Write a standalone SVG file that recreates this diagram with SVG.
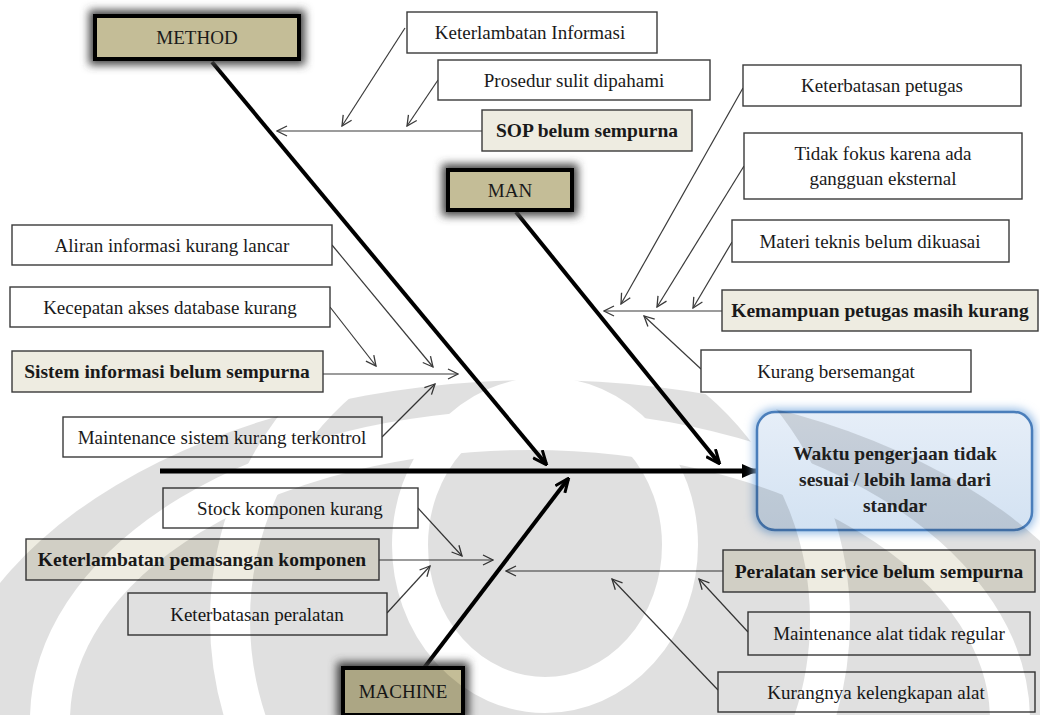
<svg xmlns="http://www.w3.org/2000/svg" width="1040" height="715" viewBox="0 0 1040 715">
  <style>
    .box { fill: #ffffff; stroke: #3a3a3a; stroke-width: 1.4; }
    .main { fill: #eeece1; stroke: #3a3a3a; stroke-width: 1.4; }
    .cat { fill: #c4bd97; stroke: #000000; stroke-width: 4; }
    .catshadow { fill: #444444; filter: url(#soft); }
    .t { font-family: "Liberation Serif", "Times New Roman", serif; font-size: 19px; fill: #1a1a1a; text-anchor: middle; }
    .b { font-family: "Liberation Serif", "Times New Roman", serif; font-size: 19.5px; font-weight: bold; fill: #1a1a1a; text-anchor: middle; }
    .c { font-family: "Liberation Serif", "Times New Roman", serif; font-size: 19px; fill: #1a1a1a; text-anchor: middle; }
    .e { font-family: "Liberation Serif", "Times New Roman", serif; font-size: 19.5px; font-weight: bold; fill: #222222; text-anchor: middle; }
    .thin { fill: none; stroke: #3a3a3a; stroke-width: 1.2; marker-end: url(#open); }
    .bone { fill: none; stroke: #000000; stroke-width: 4; marker-end: url(#solid); }
    .spine { fill: none; stroke: #000000; stroke-width: 5; marker-end: url(#head); }
  </style>
  <defs>
    <marker id="open" viewBox="0 0 12 12" refX="11" refY="6" markerWidth="12" markerHeight="12" markerUnits="userSpaceOnUse" orient="auto">
      <path d="M1,1 L11,6 L1,11" fill="none" stroke="#3a3a3a" stroke-width="1.3"/>
    </marker>
    <marker id="solid" viewBox="0 0 16 14" refX="14" refY="7" markerWidth="16" markerHeight="14" markerUnits="userSpaceOnUse" orient="auto">
      <path d="M1,1 L15,7 L1,13" fill="none" stroke="#000" stroke-width="3"/>
    </marker>
    <marker id="head" viewBox="0 0 16 16" refX="15" refY="8" markerWidth="16" markerHeight="16" markerUnits="userSpaceOnUse" orient="auto">
      <path d="M0,1 L16,8 L0,15 Z" fill="#000"/>
    </marker>
    <filter id="soft" x="-20%" y="-40%" width="140%" height="180%">
      <feGaussianBlur stdDeviation="4"/>
    </filter>
    <filter id="glow" x="-10%" y="-15%" width="120%" height="130%">
      <feGaussianBlur stdDeviation="5"/>
    </filter>
    <linearGradient id="effectFill" x1="0" y1="0" x2="0" y2="1">
      <stop offset="0" stop-color="#e6eef8"/>
      <stop offset="1" stop-color="#d3e2f2"/>
    </linearGradient>
    <!-- faint logo watermark: dome with concentric gaps -->
    <mask id="wm" maskUnits="userSpaceOnUse" x="0" y="0" width="1040" height="715">
      <ellipse cx="540" cy="740" rx="600" ry="360" fill="#ffffff"/>
      <g fill="none" stroke="#000000">
        <ellipse cx="545" cy="545" rx="135" ry="150" stroke-width="36"/>
        <ellipse cx="530" cy="620" rx="300" ry="310" stroke-width="40"/>
        <ellipse cx="530" cy="720" rx="480" ry="290" stroke-width="40"/>
      </g>
    </mask>
  </defs>

  <rect width="1040" height="715" fill="#ffffff"/>

  <!-- connectors: spine, category bones and cause arrows -->
  <g id="connectors">
    <line class="spine" x1="160" y1="471" x2="757" y2="471"/>
    <line class="bone" x1="212" y1="62" x2="546" y2="464"/>
    <line class="bone" x1="516" y1="212" x2="719" y2="463"/>
    <line class="bone" x1="424" y1="668" x2="568" y2="479"/>

    <line class="thin" x1="482" y1="131" x2="277" y2="131"/>
    <line class="thin" x1="405" y1="28" x2="342" y2="126"/>
    <line class="thin" x1="438" y1="80" x2="407" y2="126"/>

    <line class="thin" x1="722" y1="311" x2="604" y2="311"/>
    <line class="thin" x1="743" y1="88" x2="621" y2="304"/>
    <line class="thin" x1="744" y1="166" x2="657" y2="307"/>
    <line class="thin" x1="732" y1="242" x2="693" y2="308"/>
    <line class="thin" x1="701" y1="369" x2="644" y2="316"/>

    <line class="thin" x1="332" y1="245" x2="433" y2="367"/>
    <line class="thin" x1="330" y1="307" x2="376" y2="366"/>
    <line class="thin" x1="323" y1="374" x2="458" y2="374"/>
    <line class="thin" x1="382" y1="437" x2="435" y2="384"/>

    <line class="thin" x1="418" y1="508" x2="462" y2="556"/>
    <line class="thin" x1="379" y1="560" x2="493" y2="560"/>
    <line class="thin" x1="387" y1="613" x2="430" y2="566"/>

    <line class="thin" x1="723" y1="571" x2="506" y2="571"/>
    <line class="thin" x1="748" y1="632" x2="699" y2="579"/>
    <line class="thin" x1="718" y1="690" x2="612" y2="579"/>
  </g>

  <!-- category heads -->
  <g id="method">
    <rect class="catshadow" x="89" y="10" width="216" height="55"/>
    <rect class="cat" x="95" y="16" width="204" height="43"/>
    <text class="c" x="197" y="44">METHOD</text>
  </g>
  <g id="man">
    <rect class="catshadow" x="442" y="164" width="136" height="52"/>
    <rect class="cat" x="448" y="170" width="124" height="40"/>
    <text class="c" x="510" y="197">MAN</text>
  </g>
  <g id="machine">
    <rect class="catshadow" x="337" y="662" width="132" height="58"/>
    <rect class="cat" x="343" y="668" width="120" height="47"/>
    <text class="c" x="403" y="698">MACHINE</text>
  </g>

  <!-- effect -->
  <g id="effect">
    <rect x="754" y="409" width="281" height="124" rx="20" fill="#8fb7e3" filter="url(#glow)"/>
    <rect x="757" y="412" width="275" height="118" rx="18" fill="url(#effectFill)" stroke="#4a7ebb" stroke-width="2.5"/>
    <text class="e" x="895" y="460">Waktu pengerjaan tidak</text>
    <text class="e" x="895" y="486">sesuai / lebih lama dari</text>
    <text class="e" x="895" y="512">standar</text>
  </g>

  <!-- method causes -->
  <g id="keterlambatan-informasi">
    <rect class="box" x="407" y="12" width="250" height="41"/>
    <text class="t" x="530" y="39">Keterlambatan Informasi</text>
  </g>
  <g id="prosedur">
    <rect class="box" x="438" y="60" width="272" height="40"/>
    <text class="t" x="574" y="87">Prosedur sulit dipahami</text>
  </g>
  <g id="sop">
    <rect class="main" x="482" y="110" width="210" height="41"/>
    <text class="b" x="587" y="137">SOP belum sempurna</text>
  </g>

  <!-- man causes -->
  <g id="keterbatasan-petugas">
    <rect class="box" x="743" y="65" width="278" height="41"/>
    <text class="t" x="882" y="92">Keterbatasan petugas</text>
  </g>
  <g id="tidak-fokus">
    <rect class="box" x="744" y="133" width="278" height="66"/>
    <text class="t" x="883" y="160">Tidak fokus karena ada</text>
    <text class="t" x="883" y="185">gangguan eksternal</text>
  </g>
  <g id="materi-teknis">
    <rect class="box" x="732" y="220" width="277" height="42"/>
    <text class="t" x="870" y="248">Materi teknis belum dikuasai</text>
  </g>
  <g id="kemampuan">
    <rect class="main" x="722" y="290" width="316" height="41"/>
    <text class="b" x="880" y="317">Kemampuan petugas masih kurang</text>
  </g>
  <g id="kurang-bersemangat">
    <rect class="box" x="701" y="350" width="270" height="42"/>
    <text class="t" x="836" y="378">Kurang bersemangat</text>
  </g>

  <!-- information-system causes -->
  <g id="aliran-informasi">
    <rect class="box" x="12" y="225" width="320" height="40"/>
    <text class="t" x="172" y="252">Aliran informasi kurang lancar</text>
  </g>
  <g id="kecepatan-akses">
    <rect class="box" x="10" y="287" width="320" height="40"/>
    <text class="t" x="170" y="314">Kecepatan akses database kurang</text>
  </g>
  <g id="sistem-informasi">
    <rect class="main" x="12" y="351" width="311" height="41"/>
    <text class="b" x="167" y="378">Sistem informasi belum sempurna</text>
  </g>
  <g id="maintenance-sistem">
    <rect class="box" x="63" y="417" width="319" height="40"/>
    <text class="t" x="222" y="444">Maintenance sistem kurang terkontrol</text>
  </g>

  <!-- machine causes -->
  <g id="stock-komponen">
    <rect class="box" x="163" y="488" width="255" height="40"/>
    <text class="t" x="290" y="515">Stock komponen kurang</text>
  </g>
  <g id="keterlambatan-pemasangan">
    <rect class="main" x="26" y="539" width="353" height="41"/>
    <text class="b" x="202" y="566">Keterlambatan pemasangan komponen</text>
  </g>
  <g id="keterbatasan-peralatan">
    <rect class="box" x="128" y="593" width="259" height="42"/>
    <text class="t" x="257" y="621">Keterbatasan peralatan</text>
  </g>

  <!-- equipment causes -->
  <g id="peralatan-service">
    <rect class="main" x="723" y="550" width="312" height="42"/>
    <text class="b" x="879" y="578">Peralatan service belum sempurna</text>
  </g>
  <g id="maintenance-alat">
    <rect class="box" x="748" y="612" width="282" height="43"/>
    <text class="t" x="889" y="640">Maintenance alat tidak regular</text>
  </g>
  <g id="kurangnya-kelengkapan">
    <rect class="box" x="718" y="672" width="317" height="40"/>
    <text class="t" x="876" y="699">Kurangnya kelengkapan alat</text>
  </g>

  <!-- watermark laid over the drawing -->
  <rect x="0" y="0" width="1040" height="715" fill="#000000" fill-opacity="0.12" mask="url(#wm)"/>
</svg>
